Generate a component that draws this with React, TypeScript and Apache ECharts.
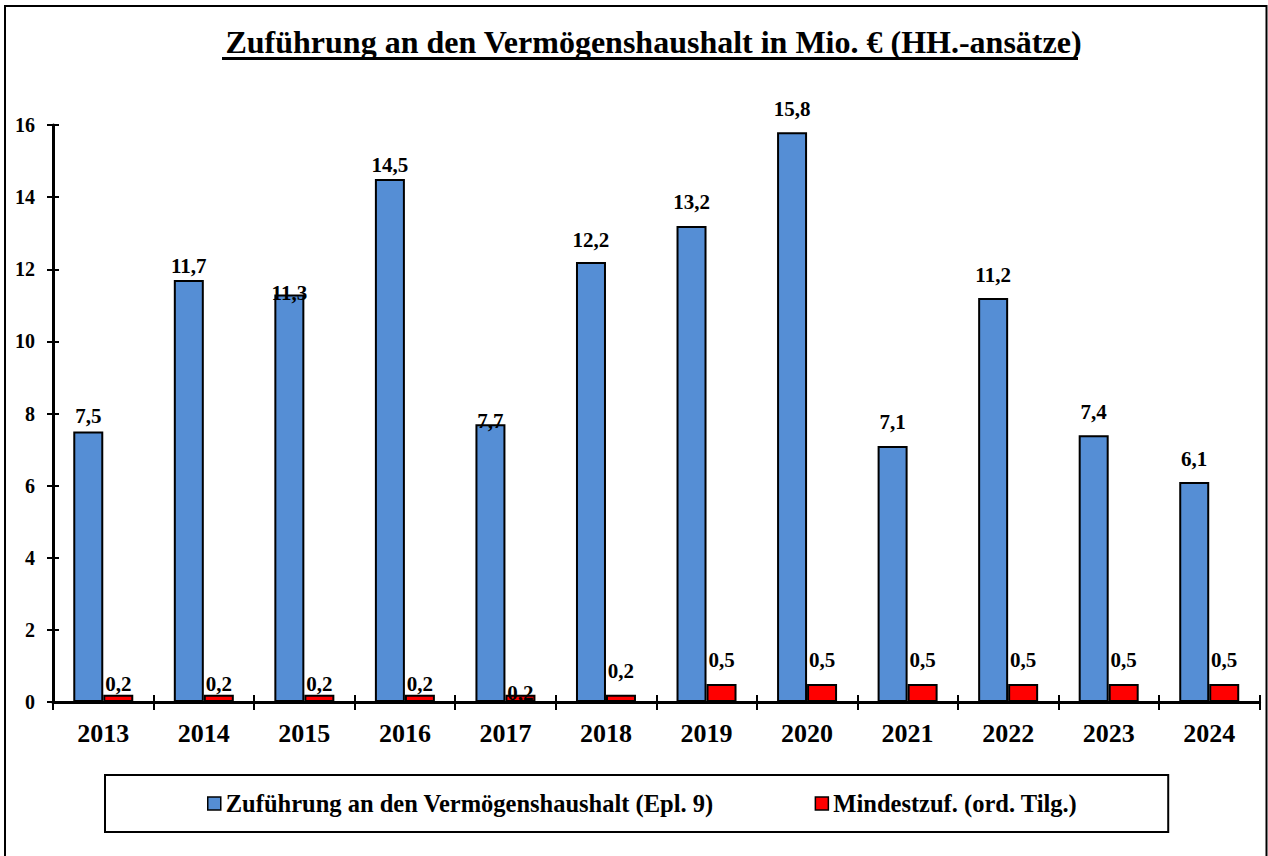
import React, { useEffect, useRef } from "react";
import * as echarts from "echarts";

const years = ["2013", "2014", "2015", "2016", "2017", "2018", "2019", "2020", "2021", "2022", "2023", "2024"];
const zufuehrung = [7.5, 11.7, 11.3, 14.5, 7.7, 12.2, 13.2, 15.8, 7.1, 11.2, 7.4, 6.1];
const mindestzuf = [0.2, 0.2, 0.2, 0.2, 0.2, 0.2, 0.5, 0.5, 0.5, 0.5, 0.5, 0.5];
const seriesNames = ["Zuführung an den Vermögenshaushalt (Epl. 9)", "Mindestzuf. (ord. Tilg.)"];
const titleText = "Zuführung an den Vermögenshaushalt in Mio. € (HH.-ansätze)";

// label distances above bars (layout, not data)
const blueLabelGap = [5, 4, -9, 4, -7, 12, 13, 13, 13, 13, 13, 13];
const redLabelGap = [0.5, 0.5, 0.5, 0.5, -9, 13, 13, 13, 13, 13, 13, 13];

const FONT = "Liberation Serif";

export default function App() {
  const ref = useRef<HTMLDivElement>(null);
  useEffect(() => {
    if (!ref.current) return;
    const chart = echarts.init(ref.current, null, { renderer: "svg" });
    const fmt = (p: any) => String(p.value).replace(".", ",");
    const labelBase = {
      show: true,
      position: "top",
      color: "#000",
      fontFamily: FONT,
      fontWeight: "bold",
      fontSize: 21,
      formatter: fmt,
    };
    chart.setOption({
      animation: false,
      backgroundColor: "#fff",
      textStyle: { fontFamily: FONT },
      grid: { left: 53, right: 8.5, top: 125, bottom: 154, containLabel: false },
      legend: {
        left: 105,
        top: 775,
        padding: [16, 91, 16, 102],
        itemGap: 101,
        itemWidth: 13,
        itemHeight: 13,
        icon: "rect",
        borderColor: "#000",
        borderWidth: 2,
        itemStyle: { borderColor: "#000", borderWidth: 1.5 },
        textStyle: { fontFamily: FONT, fontWeight: "bold", fontSize: 24.5, color: "#000" },
        data: seriesNames,
      },
      xAxis: [
        {
          type: "category",
          data: years,
          axisLine: { lineStyle: { color: "#000", width: 3 } },
          axisTick: { show: true, length: 8, lineStyle: { color: "#000", width: 2 } },
          axisLabel: { color: "#000", fontFamily: FONT, fontWeight: "bold", fontSize: 26, margin: 18 },
          splitLine: { show: false },
        },
        {
          type: "category",
          data: years,
          position: "bottom",
          axisLine: { show: false },
          axisTick: { show: true, inside: true, length: 7, lineStyle: { color: "#000", width: 2 } },
          axisLabel: { show: false },
          splitLine: { show: false },
        },
      ],
      yAxis: [
        {
          type: "value",
          min: 0,
          max: 16,
          interval: 2,
          axisLine: { show: true, lineStyle: { color: "#000", width: 3 } },
          axisTick: { show: true, length: 6, lineStyle: { color: "#000", width: 2 } },
          axisLabel: { color: "#000", fontFamily: FONT, fontWeight: "bold", fontSize: 20, margin: 18 },
          splitLine: { show: false },
        },
        {
          type: "value",
          min: 0,
          max: 16,
          interval: 2,
          position: "left",
          axisLine: { show: false },
          axisTick: { show: true, inside: true, length: 6, lineStyle: { color: "#000", width: 2 } },
          axisLabel: { show: false },
          splitLine: { show: false },
        },
      ],
      series: [
        {
          name: seriesNames[0],
          type: "bar",
          barWidth: 30,
          barGap: "0%",
          itemStyle: { color: "#558ED5", borderColor: "#000", borderWidth: 2 },
          label: labelBase,
          data: zufuehrung.map((v, i) => ({ value: v, label: { distance: blueLabelGap[i] } })),
        },
        {
          name: seriesNames[1],
          type: "bar",
          barWidth: 30,
          barGap: "0%",
          itemStyle: { color: "#FF0000", borderColor: "#000", borderWidth: 2 },
          label: labelBase,
          data: mindestzuf.map((v, i) => ({ value: v, label: { distance: redLabelGap[i] } })),
        },
      ],
      graphic: [
        {
          type: "rect",
          silent: true,
          shape: { x: 5, y: 6, width: 1261.5, height: 870 },
          style: { fill: "none", stroke: "#000", lineWidth: 2 },
        },
        {
          type: "text",
          x: 653.5,
          y: 42,
          style: {
            text: titleText,
            fontFamily: FONT,
            fontWeight: "bold",
            fontSize: 32,
            fill: "#000",
            align: "center",
            verticalAlign: "middle",
          },
        },
        {
          type: "line",
          silent: true,
          shape: { x1: 222, y1: 58.5, x2: 1078, y2: 58.5 },
          style: { stroke: "#000", lineWidth: 3 },
        },
      ],
    });
    return () => chart.dispose();
  }, []);
  return (
    <div
      ref={ref}
      style={{ position: "absolute", left: 0, top: 0, width: 1268, height: 856 }}
    />
  );
}
